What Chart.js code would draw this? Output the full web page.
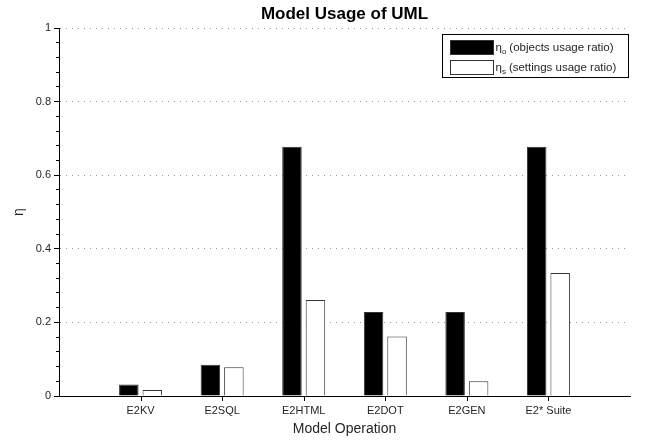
<!DOCTYPE html>
<html>
<head>
<meta charset="utf-8">
<script src="https://cdn.jsdelivr.net/npm/chart.js@4"></script>
<style>body{margin:0;background:#fff}</style>
</head>
<body>
<canvas id="usage" width="646" height="441"></canvas>
<script>
var operations = ['E2KV', 'E2SQL', 'E2HTML', 'E2DOT', 'E2GEN', 'E2* Suite'];
var objectsRatio = [0.031, 0.085, 0.677, 0.228, 0.228, 0.677];
var settingsRatio = [0.016, 0.078, 0.261, 0.162, 0.040, 0.334];
var seriesSubscripts = ['o', 's'];
var seriesNames = ['(objects usage ratio)', '(settings usage ratio)'];
var yTicks = [0, 0.2, 0.4, 0.6, 0.8, 1];
var yMinorStep = 0.04;

// one empty slot on each side, like the original figure
var labels = [''].concat(operations, ['']);
function pad(arr) { return [null].concat(arr, [null]); }
var lastIdx = labels.length - 1;

Chart.defaults.font.family = '"Liberation Sans", Arial, sans-serif';
Chart.defaults.color = '#262626';

// short outward tick marks under each operation
var xTickMarks = {
    id: 'xTickMarks',
    afterDraw: function (chart) {
        var c = chart.ctx, s = chart.scales.x;
        c.save();
        c.strokeStyle = '#000';
        c.lineWidth = 1;
        c.beginPath();
        for (var i = 1; i < lastIdx; i++) {
            var px = Math.round(s.getPixelForTick(i)) + 0.5;
            c.moveTo(px, s.top);
            c.lineTo(px, s.top + 5);
        }
        c.stroke();
        c.restore();
    }
};

// boxed legend in the top right corner
var boxLegend = {
    id: 'boxLegend',
    afterDraw: function (chart) {
        var c = chart.ctx, a = chart.chartArea;
        var w = 186, h = 43;
        var x = Math.round(a.right - 2 - w) + 0.5, y = Math.round(a.top + 6) + 0.5;
        c.save();
        c.fillStyle = '#fff';
        c.strokeStyle = '#000';
        c.lineWidth = 1;
        c.fillRect(x, y, w, h);
        c.strokeRect(x, y, w, h);
        chart.data.datasets.forEach(function (ds, i) {
            var sy = y + 6 + i * 20;
            c.fillStyle = ds.backgroundColor;
            c.fillRect(x + 8, sy, 43, 14);
            c.strokeStyle = '#333';
            c.strokeRect(x + 8, sy, 43, 14);
            c.fillStyle = '#262626';
            c.textBaseline = 'middle';
            c.font = '11.5px "Liberation Sans", Arial, sans-serif';
            var tx = x + 53;
            c.fillText('η', tx, sy + 7);
            tx += c.measureText('η').width;
            c.font = '8px "Liberation Sans", Arial, sans-serif';
            c.fillText(seriesSubscripts[i], tx, sy + 11);
            tx += c.measureText(seriesSubscripts[i]).width + 3;
            c.font = '11.5px "Liberation Sans", Arial, sans-serif';
            c.fillText(seriesNames[i], tx, sy + 7);
        });
        c.restore();
    }
};

new Chart(document.getElementById('usage'), {
    type: 'bar',
    data: {
        labels: labels,
        datasets: [{
            label: 'η_o ' + seriesNames[0],
            data: pad(objectsRatio),
            backgroundColor: '#000',
            borderColor: '#333',
            borderWidth: 1,
            barPercentage: 0.83,
            categoryPercentage: 0.576
        }, {
            label: 'η_s ' + seriesNames[1],
            data: pad(settingsRatio),
            backgroundColor: '#fff',
            borderColor: '#333',
            borderWidth: 1,
            barPercentage: 0.83,
            categoryPercentage: 0.576
        }]
    },
    options: {
        responsive: false,
        animation: false,
        layout: { padding: { left: 0, right: 16, top: 0, bottom: 0 } },
        plugins: {
            legend: { display: false },
            tooltip: { enabled: false },
            title: {
                display: true,
                fullSize: false,
                text: 'Model Usage of UML',
                color: '#000',
                font: { size: 17, weight: 'bold' },
                padding: { top: 4, bottom: 3.6 }
            }
        },
        scales: {
            x: {
                offset: false,
                afterFit: function (s) { s.height = 45; },
                ticks: { font: { size: 11 }, padding: 3, autoSkip: false, maxRotation: 0 },
                grid: {
                    offset: false,
                    drawOnChartArea: false,
                    tickLength: 5,
                    tickColor: 'rgba(0,0,0,0)'
                },
                border: { color: '#000' },
                title: {
                    display: true,
                    text: 'Model Operation',
                    font: { size: 14 },
                    padding: { top: 0, bottom: 3 }
                }
            },
            y: {
                position: 'left',
                weight: 1,
                min: 0,
                max: 1,
                afterFit: function (s) { s.width = 59; },
                afterBuildTicks: function (s) {
                    s.ticks = yTicks.map(function (v) { return { value: v }; });
                },
                ticks: {
                    font: { size: 11 },
                    padding: 3,
                    callback: function (v) { return String(+v.toFixed(2)); }
                },
                grid: {
                    color: function (ctx) {
                        return ctx.tick && ctx.tick.value === 0 ? 'rgba(0,0,0,0)' : '#999';
                    },
                    tickColor: '#000',
                    tickBorderDash: [],
                    tickLength: 5
                },
                border: { color: '#000', dash: [1, 5] },
                title: {
                    display: true,
                    text: 'η',
                    font: { size: 14 },
                    padding: { top: 11, bottom: 0 }
                }
            },
            yMinor: {
                position: 'left',
                weight: 0,
                min: 0,
                max: 1,
                afterFit: function (s) { s.width = 0; },
                afterBuildTicks: function (s) {
                    var t = [];
                    for (var i = 0; i <= Math.round(1 / yMinorStep); i++) t.push({ value: i * yMinorStep });
                    s.ticks = t;
                },
                ticks: { display: false },
                grid: { drawOnChartArea: false, tickLength: 3, color: '#000' },
                border: { display: false }
            }
        }
    },
    plugins: [xTickMarks, boxLegend]
});
</script>
</body>
</html>
